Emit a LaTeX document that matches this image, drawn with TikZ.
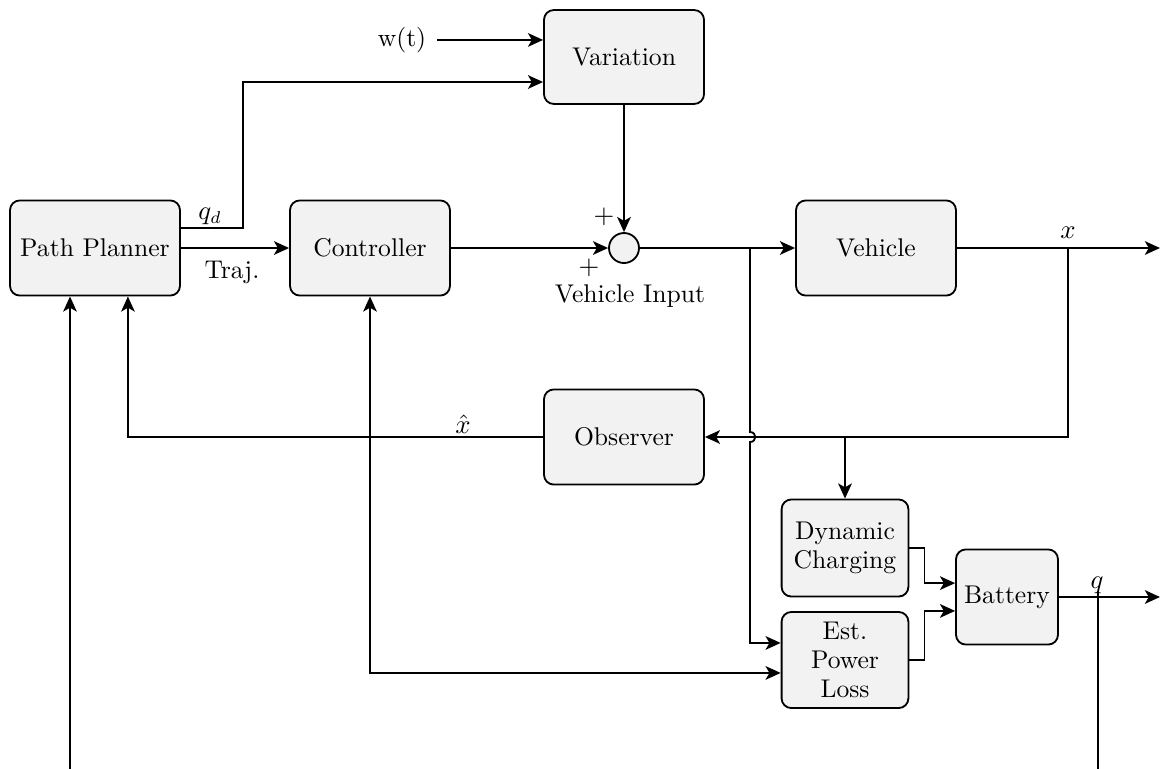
\documentclass[tikz,border=0pt]{standalone}
\usetikzlibrary{arrows.meta,calc}
\begin{document}
\begin{tikzpicture}[x=0.41pt,y=-0.41pt, line width=0.75pt,
  font=\fontsize{10.5}{11.8}\selectfont,
  >={Stealth[length=6.2pt,width=5.6pt,inset=1.6pt]},
  blk/.style={draw, rounded corners=4pt, fill=gray!10, align=center, inner sep=2pt,
    minimum width=65.6pt, minimum height=39pt},
  lbl/.style={inner sep=1pt}]
\useasboundingbox (0,0) rectangle (1160,768);
\clip (0,0) rectangle (1160,768);
% blocks
\node[blk, minimum width=69.7pt] (pp) at (95,248) {Path Planner};
\node[blk] (ctrl) at (370,248) {Controller};
\node[blk, minimum height=38.5pt] (var) at (624,57) {Variation};
\node[draw, circle, fill=gray!10, minimum size=12.3pt, inner sep=0pt] (sum) at (624,248) {};
\node[blk] (veh) at (876,248) {Vehicle};
\node[blk] (obs) at (624,437) {Observer};
\node[blk, minimum width=52pt, minimum height=39.8pt] (dc) at (845,548) {Dynamic\\Charging};
\node[blk, minimum width=52pt, minimum height=39.4pt] (epl) at (845,660) {Est.\\Power\\Loss};
\node[blk, minimum width=41.8pt, minimum height=39pt] (bat) at (1007,597) {Battery};
% labels
\node[lbl] (wt) at (402,40) {w(t)};
\node[lbl] (qd) at (210,216) {$q_d$};
\node[lbl] (traj) at (232,272) {Traj.};
\node[lbl] (p1) at (604,217) {$+$};
\node[lbl] (p2) at (589,268) {$+$};
\node[lbl] (vi) at (630,296) {Vehicle Input};
\node[lbl] (xl) at (1068,233) {$x$};
\node[lbl] (xh) at (463,424) {$\hat{x}$};
\node[lbl] (ql) at (1097,585) {$q$};
% coordinates
\coordinate (xout) at (1160,248);
\coordinate (qout) at (1160,597);
\coordinate (bot1) at (70,800);
\coordinate (bot2) at (1098,800);
\coordinate (qv) at (1098,591);
\coordinate (br1) at (750,248);
\coordinate (jA) at (750,432);
\coordinate (jB) at (750,442);
\coordinate (xb) at (1068,248);
\coordinate (xc) at (1068,437);
\coordinate (ppq) at ([yshift=8.2pt]pp.east);
\coordinate (varq) at ([yshift=-10.25pt]var.west);
\coordinate (varw) at ([yshift=7pt]var.west);
\coordinate (eplH) at ([yshift=7pt]epl.west);
\coordinate (eplL) at ([yshift=-5.3pt]epl.west);
\coordinate (ppfb) at ([xshift=13.5pt]pp.south);
\coordinate (ppin) at ([xshift=-10.25pt]pp.south);
\coordinate (b1) at ([yshift=5.7pt]bat.west);
\coordinate (b2) at ([yshift=-5.7pt]bat.west);
% connectors
\draw[->] ([xshift=3pt]wt.east |- varw) -- (varw);
\draw[->] (ppq) -- (243,228) -- (243,82) -- (varq);
\draw[->] (pp) -- (ctrl);
\draw[->] (ctrl) -- (sum);
\draw[->] (var) -- (sum);
\draw[->] (sum) -- (veh);
\draw[->] (br1) -- (jA) .. controls (757,432) and (757,442) .. (jB) -- (jB |- eplH) -- (eplH);
\draw[<->] (ctrl.south) -- (ctrl.south |- eplL) -- (eplL);
\draw[->] (veh) -- (xout);
\draw[->] (xb) -- (xc) -- (obs.east);
\draw[->] (dc.north |- xc) -- (dc.north);
\draw[->] (obs.west) -- (obs.west -| ppfb) -- (ppfb);
\draw[->] (bot1) -- (ppin);
\draw[->] (dc.east) -- ++(6.2pt,0) |- (b1);
\draw[->] (epl.east) -- ++(6.2pt,0) |- (b2);
\draw[->] (bat) -- (qout);
\draw (qv) -- (bot2);
\end{tikzpicture}
\end{document}
